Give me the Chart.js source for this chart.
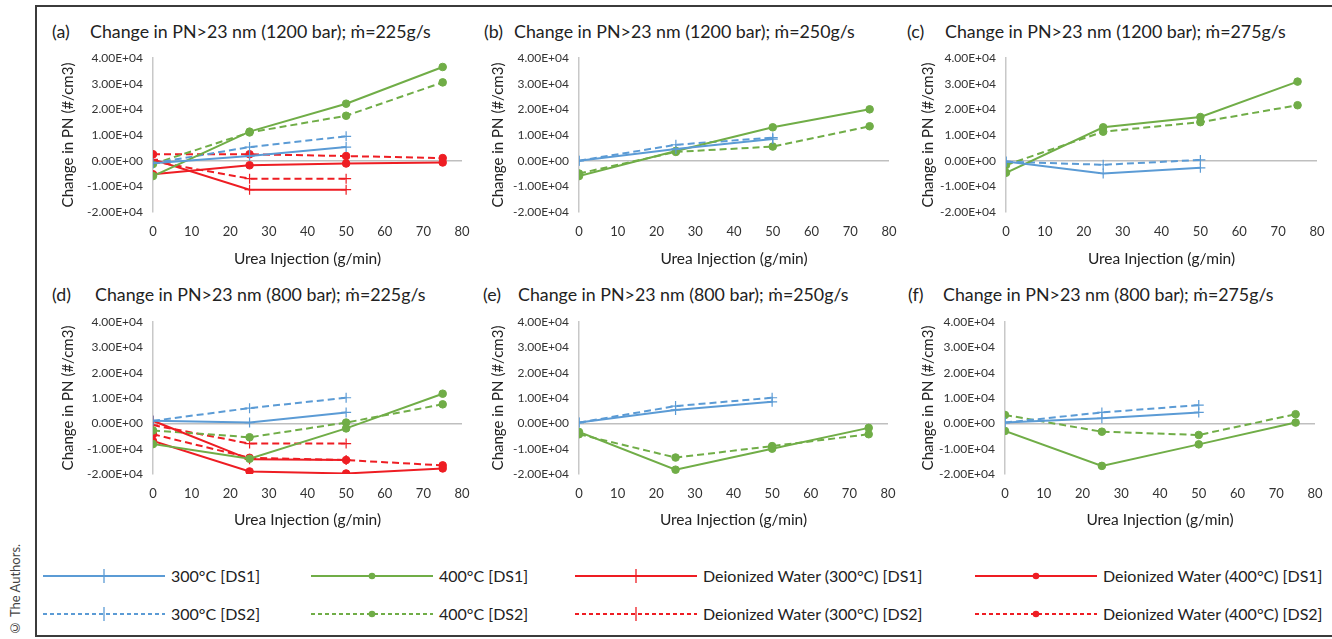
<!DOCTYPE html>
<html>
<head>
<meta charset="utf-8">
<script src="https://cdn.jsdelivr.net/npm/chart.js@4"></script>
<style>
  body { margin: 0; width: 1332px; height: 639px; overflow: hidden; background: #fff; position: relative;
         font-family: Lato, "Open Sans", sans-serif; color: #222; }
  .frame { position: absolute; left: 35px; top: 5px; width: 1320px; height: 632px; border: 2px solid #3b3b3b; box-sizing: border-box; }
  .copy { position: absolute; left: 7px; top: 538px; height: 98px; writing-mode: vertical-rl; transform: rotate(180deg); font-size: 13px; color: #444; white-space: nowrap; text-align: left; }
  .ptitle { position: absolute; font-size: 17.8px; white-space: nowrap; color: #222; }
  canvas { position: absolute; }
  .leg { position: absolute; font-size: 16px; white-space: nowrap; color: #222; }
  .leg svg { position: absolute; }
</style>
</head>
<body>
<div class="frame"></div>
<div class="copy" id="copy">© The Authors.</div>
<div id="wrap"></div>
<script>
// urea injection rates (g/min)
const ureaShort = [0, 25, 50];
const ureaLong = [0, 25, 50, 75];
const xTickValues = [0, 10, 20, 30, 40, 50, 60, 70, 80];
const yTickValues = [-20000, -10000, 0, 10000, 20000, 30000, 40000];

const panelLetters = ['(a)', '(b)', '(c)', '(d)', '(e)', '(f)'];
const panelTitles = [
  'Change in PN>23 nm (1200 bar); ṁ=225g/s',
  'Change in PN>23 nm (1200 bar); ṁ=250g/s',
  'Change in PN>23 nm (1200 bar); ṁ=275g/s',
  'Change in PN>23 nm (800 bar); ṁ=225g/s',
  'Change in PN>23 nm (800 bar); ṁ=250g/s',
  'Change in PN>23 nm (800 bar); ṁ=275g/s'
];

const seriesNames = [
  '300°C [DS1]', '400°C [DS1]', 'Deionized Water (300°C) [DS1]', 'Deionized Water (400°C) [DS1]',
  '300°C [DS2]', '400°C [DS2]', 'Deionized Water (300°C) [DS2]', 'Deionized Water (400°C) [DS2]'
];

// (a) 1200 bar, 225 g/s
const a300DS1 = [-1000, 1800, 5300];
const a300DS2 = [-1000, 5300, 9500];
const a400DS1 = [-6000, 11300, 22200, 36500];
const a400DS2 = [-1300, 11000, 17500, 30500];
const aDW300DS1 = [500, -11300, -11300];
const aDW300DS2 = [-300, -7000, -7000];
const aDW400DS1 = [-5300, -1800, -1100, -700];
const aDW400DS2 = [2500, 2500, 1800, 1000];

// (b) 1200 bar, 250 g/s
const b300DS1 = [0, 4500, 8400];
const b300DS2 = [0, 6200, 9000];
const b400DS1 = [-6000, 3800, 13000, 20000];
const b400DS2 = [-5000, 3400, 5500, 13400];

// (c) 1200 bar, 275 g/s
const c300DS1 = [-300, -5000, -2800];
const c300DS2 = [-400, -1600, 300];
const c400DS1 = [-4700, 13000, 17000, 30800];
const c400DS2 = [-1700, 11300, 15000, 21600];

// (d) 800 bar, 225 g/s
const d300DS1 = [1000, 300, 4300];
const d300DS2 = [1000, 6000, 10100];
const d400DS1 = [-8200, -14000, -2000, 11700];
const d400DS2 = [-2800, -5500, 300, 7500];
const dDW300DS1 = [1000, -14200, -14500];
const dDW300DS2 = [-700, -8000, -8000];
const dDW400DS1 = [-7000, -19000, -19800, -17800];
const dDW400DS2 = [-4300, -13600, -14500, -16600];

// (e) 800 bar, 250 g/s
const e300DS1 = [300, 5300, 8500];
const e300DS2 = [300, 6800, 10100];
const e400DS1 = [-3400, -18300, -10000, -1800];
const e400DS2 = [-4300, -13500, -9000, -4300];

// (f) 800 bar, 275 g/s
const f300DS1 = [300, 2000, 4300];
const f300DS2 = [300, 4300, 7200];
const f400DS1 = [-3000, -16800, -8300, 300];
const f400DS2 = [3300, -3300, -4600, 3600];

const BLUE = '#5b9bd5', GREEN = '#70ad47', RED = '#ee1d23';

// style per series index (same order as seriesNames)
const seriesStyle = [
  { color: BLUE, dash: [], point: 'cross' },
  { color: GREEN, dash: [], point: 'circle' },
  { color: RED, dash: [], point: 'cross' },
  { color: RED, dash: [], point: 'circle' },
  { color: BLUE, dash: [7, 4], point: 'cross' },
  { color: GREEN, dash: [7, 4], point: 'circle' },
  { color: RED, dash: [7, 4], point: 'cross' },
  { color: RED, dash: [7, 4], point: 'circle' }
];

// series per panel, indexed like seriesNames (null = not present)
const panelSeries = [
  [a300DS1, a400DS1, aDW300DS1, aDW400DS1, a300DS2, a400DS2, aDW300DS2, aDW400DS2],
  [b300DS1, b400DS1, null, null, b300DS2, b400DS2, null, null],
  [c300DS1, c400DS1, null, null, c300DS2, c400DS2, null, null],
  [d300DS1, d400DS1, dDW300DS1, dDW400DS1, d300DS2, d400DS2, dDW300DS2, dDW400DS2],
  [e300DS1, e400DS1, null, null, e300DS2, e400DS2, null, null],
  [f300DS1, f400DS1, null, null, f300DS2, f400DS2, null, null]
];

// layout of each panel: canvas box, plot area offsets, title letter / text x
const panelBox = [
  { left: 40, top: 45, yw: 113, padR: 8, padT: 13, xh: 58, lx: 52, tx: 90, ty: 20, tb: 2 },
  { left: 470, top: 45, yw: 109, padR: 11, padT: 13, xh: 58, lx: 484, tx: 514, ty: 20, tb: 2 },
  { left: 900, top: 45, yw: 106, padR: 13, padT: 13, xh: 58, lx: 907, tx: 945, ty: 20, tb: 2 },
  { left: 40, top: 310, yw: 113, padR: 8, padT: 12, xh: 61, lx: 52, tx: 95, ty: 283, tb: 6 },
  { left: 470, top: 310, yw: 109, padR: 12, padT: 12, xh: 61, lx: 483, tx: 518, ty: 283, tb: 6 },
  { left: 900, top: 310, yw: 105, padR: 15, padT: 12, xh: 61, lx: 908, tx: 943, ty: 283, tb: 6 }
];

function sci(v) {
  if (v === 0) return '0.00E+00';
  const e = Math.floor(Math.log10(Math.abs(v)) + 1e-9);
  const m = v / Math.pow(10, e);
  return m.toFixed(2) + 'E' + (e < 0 ? '-' : '+') + String(Math.abs(e)).padStart(2, '0');
}

function esc(s) { return s.replace(/</g, '&lt;').replace(/>/g, '&gt;'); }

const FONT = 'Lato, "Open Sans", sans-serif';
const wrap = document.getElementById('wrap');

panelSeries.forEach((series, p) => {
  const box = panelBox[p];
  const l = document.createElement('div');
  l.className = 'ptitle';
  l.style.left = box.lx + 'px';
  l.style.top = box.ty + 'px';
  l.textContent = panelLetters[p];
  wrap.appendChild(l);
  const t = document.createElement('div');
  t.className = 'ptitle';
  t.style.left = box.tx + 'px';
  t.style.top = box.ty + 'px';
  t.innerHTML = esc(panelTitles[p]);
  wrap.appendChild(t);

  const cv = document.createElement('canvas');
  cv.width = 430; cv.height = 225;
  cv.style.left = box.left + 'px';
  cv.style.top = box.top + 'px';
  wrap.appendChild(cv);

  const datasets = [];
  series.forEach((vals, i) => {
    if (!vals) return;
    const xs = vals.length === 3 ? ureaShort : ureaLong;
    const st = seriesStyle[i];
    datasets.push({
      label: seriesNames[i],
      data: vals.map((v, k) => ({ x: xs[k], y: v })),
      borderColor: st.color,
      backgroundColor: st.color,
      borderWidth: 2,
      borderDash: st.dash,
      pointStyle: st.point,
      pointRadius: st.point === 'cross' ? 5 : 3.8,
      pointBorderWidth: st.point === 'cross' ? 1.2 : 1,
      tension: 0
    });
  });

  new Chart(cv, {
    type: 'line',
    data: { datasets: datasets },
    options: {
      responsive: false,
      animation: false,
      layout: { padding: { top: box.padT, right: box.padR, left: 0, bottom: 0 } },
      plugins: { legend: { display: false }, tooltip: { enabled: false } },
      scales: {
        x: {
          type: 'linear', min: 0, max: 80,
          afterBuildTicks: s => { s.ticks = xTickValues.map(v => ({ value: v })); },
          afterFit: s => { s.height = box.xh; s.paddingLeft = 0; s.paddingRight = 0; },
          grid: { display: false },
          border: { display: false },
          ticks: { padding: 4, color: '#333', font: { family: FONT, size: 13 }, maxRotation: 0 },
          title: { display: true, text: 'Urea Injection (g/min)', color: '#222', font: { family: FONT, size: 15.5 }, padding: { top: 0, bottom: box.tb } }
        },
        y: {
          type: 'linear', min: -20000, max: 40000,
          afterBuildTicks: s => { s.ticks = yTickValues.map(v => ({ value: v })); },
          afterFit: s => { s.width = box.yw; s.paddingTop = 0; s.paddingBottom = 0; },
          grid: { color: c => (c.tick && c.tick.value === 0 ? '#bfbfbf' : 'rgba(0,0,0,0)'), lineWidth: 1.5, drawTicks: false },
          border: { display: true, color: '#c8c8c8', width: 1.5 },
          ticks: { padding: 10, color: '#333', font: { family: FONT, size: 12 }, callback: v => sci(v) },
          title: { display: true, text: 'Change in PN (#/cm3)', color: '#222', font: { family: FONT, size: 15 }, padding: { top: 19, bottom: 0 } }
        }
      }
    }
  });
});

// legend
const legendPos = [
  { x: 43, y: 576 }, { x: 311, y: 576 }, { x: 575, y: 576 }, { x: 975, y: 576 },
  { x: 43, y: 614 }, { x: 311, y: 614 }, { x: 575, y: 614 }, { x: 975, y: 614 }
];
seriesNames.forEach((name, i) => {
  const st = seriesStyle[i];
  const pos = legendPos[i];
  const d = document.createElement('div');
  d.className = 'leg';
  d.style.left = pos.x + 'px';
  d.style.top = (pos.y - 10) + 'px';
  d.style.width = '400px';
  d.style.height = '20px';
  const dash = st.dash.length ? 'stroke-dasharray="4 3"' : '';
  const mark = st.point === 'cross'
    ? `<line x1="61" y1="3" x2="61" y2="17" stroke="${st.color}" stroke-width="1.3"/>`
    : `<circle cx="61" cy="10" r="3.3" fill="${st.color}"/>`;
  d.innerHTML = `<svg width="124" height="20" style="left:0;top:0"><line x1="0" y1="10" x2="122" y2="10" stroke="${st.color}" stroke-width="2" ${dash}/>${mark}</svg>` +
    `<span style="position:absolute;left:128px;top:0;line-height:20px">${name}</span>`;
  wrap.appendChild(d);
});
</script>
</body>
</html>
